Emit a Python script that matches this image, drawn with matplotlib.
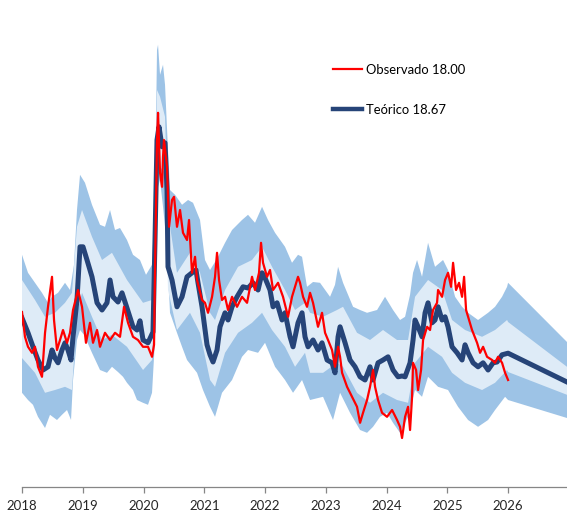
import numpy as np
import matplotlib.pyplot as plt
from matplotlib.lines import Line2D

# --- DATA (decimal years) ---
t_obs = [2018.000, 2018.049, 2018.099, 2018.165, 2018.214, 2018.263, 2018.329, 2018.379, 2018.428, 2018.494,
         2018.527, 2018.576, 2018.626, 2018.675, 2018.741, 2018.790, 2018.840, 2018.922, 2018.988, 2019.053,
         2019.119, 2019.169, 2019.235, 2019.284, 2019.366, 2019.449, 2019.531, 2019.613, 2019.679, 2019.745,
         2019.827, 2019.909, 2019.992, 2020.074, 2020.140, 2020.173, 2020.189, 2020.222, 2020.239, 2020.272,
         2020.305, 2020.321, 2020.337, 2020.387, 2020.420, 2020.469, 2020.502, 2020.551, 2020.601, 2020.650,
         2020.716, 2020.749, 2020.798, 2020.848, 2020.881, 2020.963, 2021.012, 2021.062, 2021.128, 2021.177,
         2021.210, 2021.243, 2021.292, 2021.342, 2021.391, 2021.457, 2021.539, 2021.621, 2021.704, 2021.786,
         2021.835, 2021.901, 2021.934, 2021.967, 2022.033, 2022.082, 2022.132, 2022.214, 2022.296, 2022.379,
         2022.444, 2022.494, 2022.543, 2022.576, 2022.626, 2022.691, 2022.741, 2022.790, 2022.872, 2022.938,
         2022.988, 2023.037, 2023.103, 2023.152, 2023.202, 2023.235, 2023.268, 2023.350, 2023.432, 2023.514,
         2023.564, 2023.613, 2023.679, 2023.728, 2023.778, 2023.811, 2023.860, 2023.926, 2024.008, 2024.091,
         2024.173, 2024.222, 2024.255, 2024.305, 2024.354, 2024.387, 2024.420, 2024.436, 2024.486, 2024.519,
         2024.568, 2024.601, 2024.667, 2024.716, 2024.765, 2024.831, 2024.848, 2024.914, 2024.963, 2025.012,
         2025.062, 2025.095, 2025.144, 2025.193, 2025.243, 2025.276, 2025.309, 2025.358, 2025.407, 2025.490,
         2025.539, 2025.589, 2025.654, 2025.737, 2025.786, 2025.835, 2025.901, 2025.951, 2026.000]
v_obs = [19.70, 19.08, 18.83, 18.68, 18.83, 18.33, 18.08, 19.18, 19.83, 20.58,
         19.50, 18.75, 19.00, 19.25, 18.93, 19.18, 19.75, 20.25, 19.83, 18.93,
         19.43, 18.93, 19.25, 18.83, 19.18, 19.00, 19.18, 19.08, 19.83, 19.43,
         19.08, 19.00, 18.83, 18.83, 18.58, 18.88, 20.68, 24.00, 24.68, 23.18,
         22.83, 23.58, 24.00, 23.33, 21.83, 22.50, 22.58, 21.83, 22.25, 21.68,
         21.50, 22.00, 20.68, 21.08, 20.50, 20.00, 19.93, 19.68, 20.08, 20.58,
         21.18, 20.50, 20.00, 20.08, 19.75, 20.08, 19.83, 20.08, 19.93, 20.58,
         20.25, 20.68, 21.43, 20.93, 20.58, 20.75, 20.25, 20.43, 20.08, 19.58,
         20.08, 20.33, 20.58, 20.43, 20.08, 19.83, 20.18, 19.93, 19.33, 19.68,
         19.18, 19.00, 18.75, 18.33, 18.83, 18.58, 18.18, 17.83, 17.58, 17.33,
         16.93, 17.18, 17.50, 17.83, 18.25, 17.83, 17.50, 17.18, 17.08, 17.25,
         17.00, 16.83, 16.55, 17.08, 17.33, 16.75, 17.58, 18.43, 18.25, 17.75,
         18.25, 19.00, 19.33, 19.25, 19.75, 19.93, 20.25, 20.08, 20.50, 20.68,
         20.33, 20.93, 20.25, 20.43, 20.08, 20.58, 19.75, 19.50, 19.25, 18.93,
         18.68, 18.83, 18.58, 18.50, 18.43, 18.58, 18.43, 18.18, 18.00]

t_teo = [2018.000, 2018.099, 2018.181, 2018.263, 2018.346, 2018.428, 2018.494, 2018.543, 2018.593, 2018.658,
         2018.708, 2018.757, 2018.807, 2018.840, 2018.905, 2018.955, 2019.004, 2019.070, 2019.152, 2019.235,
         2019.317, 2019.399, 2019.449, 2019.498, 2019.580, 2019.646, 2019.728, 2019.827, 2019.893, 2019.942,
         2019.992, 2020.074, 2020.156, 2020.189, 2020.222, 2020.255, 2020.305, 2020.354, 2020.387, 2020.403,
         2020.469, 2020.551, 2020.634, 2020.716, 2020.798, 2020.864, 2020.897, 2020.963, 2021.045, 2021.095,
         2021.144, 2021.210, 2021.259, 2021.342, 2021.391, 2021.457, 2021.539, 2021.638, 2021.720, 2021.803,
         2021.885, 2021.951, 2022.000, 2022.082, 2022.132, 2022.198, 2022.280, 2022.329, 2022.412, 2022.461,
         2022.543, 2022.609, 2022.658, 2022.708, 2022.790, 2022.872, 2022.938, 2023.021, 2023.103, 2023.152,
         2023.202, 2023.235, 2023.317, 2023.399, 2023.482, 2023.564, 2023.646, 2023.728, 2023.778, 2023.860,
         2023.942, 2024.025, 2024.107, 2024.189, 2024.255, 2024.305, 2024.387, 2024.436, 2024.469, 2024.519,
         2024.584, 2024.634, 2024.683, 2024.749, 2024.798, 2024.848, 2024.914, 2024.963, 2025.012, 2025.078,
         2025.161, 2025.243, 2025.292, 2025.342, 2025.424, 2025.506, 2025.589, 2025.671, 2025.753, 2025.819,
         2025.901, 2026.000]
v_teo = [19.55, 19.18, 18.83, 18.50, 18.25, 18.33, 18.75, 18.55, 18.43, 18.75,
         18.93, 18.75, 18.50, 19.08, 20.00, 21.33, 21.33, 21.00, 20.58, 19.93,
         19.75, 19.93, 20.50, 20.08, 19.95, 20.18, 19.80, 19.33, 19.25, 19.48,
         19.00, 18.93, 19.20, 21.50, 24.00, 24.33, 23.83, 23.93, 22.75, 20.83,
         20.50, 19.83, 20.08, 20.58, 20.68, 20.75, 20.43, 19.83, 18.88, 18.63,
         18.45, 18.75, 19.33, 19.68, 19.50, 19.83, 20.08, 20.33, 20.30, 20.43,
         20.25, 20.68, 20.55, 20.25, 19.83, 19.93, 19.50, 19.68, 19.08, 18.83,
         19.43, 19.68, 19.08, 18.83, 19.00, 18.75, 18.93, 18.50, 18.43, 18.18,
         19.08, 19.33, 18.93, 18.50, 18.33, 18.08, 18.00, 18.33, 18.00, 18.43,
         18.50, 18.58, 18.25, 18.08, 18.10, 18.08, 18.43, 19.00, 19.50, 19.33,
         19.08, 19.68, 19.93, 19.43, 19.50, 19.83, 19.50, 19.58, 19.33, 18.83,
         18.68, 18.50, 18.88, 18.68, 18.43, 18.33, 18.43, 18.25, 18.43, 18.45,
         18.63, 18.67]

# forecast of the theoretical value
t_fcst = [2026.000, 2026.97]
v_fcst = [18.67, 17.95]

# outer band (upper / lower edge), history + forecast
t_out_hi = [2018.000, 2018.099, 2018.214, 2018.329, 2018.428, 2018.494, 2018.593, 2018.708, 2018.790, 2018.856,
            2018.905, 2018.955, 2019.037, 2019.152, 2019.284, 2019.366, 2019.449, 2019.531, 2019.613, 2019.728,
            2019.827, 2019.942, 2020.041, 2020.140, 2020.189, 2020.222, 2020.239, 2020.272, 2020.321, 2020.354,
            2020.403, 2020.436, 2020.519, 2020.634, 2020.733, 2020.815, 2020.930, 2021.012, 2021.095, 2021.177,
            2021.226, 2021.342, 2021.457, 2021.621, 2021.720, 2021.835, 2021.951, 2022.049, 2022.165, 2022.329,
            2022.444, 2022.543, 2022.609, 2022.691, 2022.790, 2022.905, 2023.070, 2023.152, 2023.202, 2023.284,
            2023.449, 2023.564, 2023.679, 2023.844, 2023.975, 2024.107, 2024.222, 2024.305, 2024.387, 2024.436,
            2024.502, 2024.584, 2024.683, 2024.798, 2024.930, 2025.012, 2025.128, 2025.243, 2025.342, 2025.506,
            2025.671, 2025.786, 2025.901, 2025.984, 2026.000, 2026.97]
v_out_hi = [21.13, 20.68, 20.43, 20.18, 19.93, 20.08, 20.18, 20.43, 20.25, 20.88,
            22.25, 23.13, 22.93, 22.38, 21.88, 21.83, 22.25, 21.75, 21.80, 21.50,
            21.13, 21.00, 20.63, 20.88, 22.50, 26.25, 26.38, 25.63, 25.88, 25.38,
            23.75, 22.75, 22.63, 22.38, 22.50, 22.43, 22.00, 21.00, 20.75, 20.95,
            21.08, 21.43, 21.75, 22.00, 22.13, 21.93, 22.33, 22.00, 21.68, 21.33,
            20.93, 21.13, 21.08, 20.33, 20.45, 20.43, 20.08, 20.38, 20.83, 20.43,
            19.83, 19.75, 19.68, 19.75, 20.08, 19.75, 19.50, 19.58, 20.13, 20.68,
            21.00, 20.58, 21.43, 20.83, 21.00, 20.75, 20.08, 19.83, 19.68, 19.50,
            19.68, 19.83, 20.08, 20.33, 20.43, 18.95]
t_out_lo = [2018.000, 2018.099, 2018.181, 2018.263, 2018.379, 2018.461, 2018.576, 2018.658, 2018.741, 2018.807,
            2018.840, 2018.905, 2018.955, 2019.021, 2019.152, 2019.284, 2019.399, 2019.481, 2019.580, 2019.663,
            2019.728, 2019.827, 2019.893, 2019.992, 2020.074, 2020.140, 2020.189, 2020.222, 2020.272, 2020.321,
            2020.387, 2020.436, 2020.551, 2020.634, 2020.716, 2020.881, 2020.979, 2021.095, 2021.177, 2021.292,
            2021.457, 2021.621, 2021.720, 2021.885, 2022.000, 2022.165, 2022.329, 2022.461, 2022.609, 2022.741,
            2022.955, 2023.119, 2023.235, 2023.399, 2023.564, 2023.679, 2023.778, 2023.893, 2024.008, 2024.107,
            2024.222, 2024.354, 2024.469, 2024.584, 2024.683, 2024.848, 2025.012, 2025.177, 2025.342, 2025.506,
            2025.671, 2025.786, 2025.951, 2026.000, 2026.97]
v_out_lo = [17.68, 17.50, 17.38, 17.08, 16.80, 17.13, 17.00, 17.13, 17.25, 17.00,
            18.00, 19.00, 19.25, 19.13, 18.68, 18.25, 18.18, 18.33, 18.20, 18.08,
            17.93, 17.75, 17.50, 17.43, 17.38, 17.68, 19.00, 22.75, 23.00, 22.33,
            21.33, 19.68, 19.18, 18.83, 18.50, 18.18, 17.75, 17.33, 17.08, 17.68,
            18.00, 18.58, 18.75, 18.68, 18.93, 18.33, 18.00, 17.68, 18.00, 17.50,
            17.58, 17.00, 17.68, 17.18, 16.75, 16.68, 16.83, 17.08, 17.18, 16.93,
            16.68, 17.08, 17.75, 17.58, 18.08, 17.83, 17.75, 17.33, 17.00, 16.83,
            17.00, 17.25, 17.58, 17.50, 17.05]

# inner band (upper / lower edge), history + forecast
t_in = [2018.000, 2018.214, 2018.379, 2018.543, 2018.708, 2018.823, 2018.905, 2018.988, 2019.152, 2019.317,
        2019.481, 2019.728, 2019.992, 2020.140, 2020.189, 2020.222, 2020.272, 2020.354, 2020.403, 2020.551,
        2020.765, 2020.930, 2021.095, 2021.177, 2021.342, 2021.556, 2021.786, 2021.951, 2022.115, 2022.329,
        2022.494, 2022.658, 2022.741, 2022.955, 2023.185, 2023.284, 2023.514, 2023.728, 2023.942, 2024.173,
        2024.354, 2024.469, 2024.683, 2024.914, 2025.078, 2025.292, 2025.572, 2025.786, 2025.984, 2026.000,
        2026.97]
v_in_hi = [20.50, 20.00, 19.58, 19.68, 19.93, 20.18, 21.83, 22.25, 21.58, 21.00,
           21.18, 20.50, 19.93, 20.00, 21.75, 25.25, 25.08, 24.58, 22.18, 20.68,
           21.18, 20.68, 19.68, 19.50, 20.25, 20.83, 21.00, 21.33, 20.83, 20.25,
           19.75, 19.93, 19.68, 19.58, 19.75, 19.83, 19.18, 19.00, 19.25, 19.00,
           19.00, 20.08, 20.50, 20.25, 19.50, 19.25, 19.08, 19.25, 19.50, 19.45,
           18.33]
v_in_lo = [18.55, 18.18, 17.68, 17.75, 17.83, 17.75, 19.68, 20.18, 19.58, 19.00,
           19.13, 18.83, 18.25, 18.50, 20.00, 23.33, 23.33, 23.18, 20.25, 19.25,
           19.68, 19.18, 18.00, 17.83, 18.68, 19.18, 19.43, 19.68, 19.25, 18.83,
           18.33, 18.68, 18.18, 18.18, 18.43, 18.33, 17.68, 17.43, 17.68, 17.50,
           17.43, 18.43, 18.83, 18.58, 18.18, 17.93, 17.75, 17.93, 18.25, 18.20,
           17.63]

years = list(range(2018, 2027))

# --- STYLE ---
RED = "#FF0000"
NAVY = "#264478"
BAND_OUT = "#9DC3E6"
BAND_IN = "#DEEBF7"
plt.rcParams["font.family"] = ["Lato", "DejaVu Sans"]

fig = plt.figure(figsize=(5.67, 5.12), dpi=100)
ax = fig.add_axes([22 / 567, 1 - 487 / 512, 545 / 567, 487 / 512])

# bands as polygons (edges have their own dates)
ax.fill(np.concatenate([t_out_hi, t_out_lo[::-1]]), np.concatenate([v_out_hi, v_out_lo[::-1]]),
        color=BAND_OUT, lw=0, zorder=1)
ax.fill(np.concatenate([t_in, t_in[::-1]]), np.concatenate([v_in_hi, v_in_lo[::-1]]),
        color=BAND_IN, lw=0, zorder=2)

ax.plot(t_teo + t_fcst[1:], v_teo + v_fcst[1:], color=NAVY, lw=3.6, solid_joinstyle="round", zorder=3)
ax.plot(t_obs, v_obs, color=RED, lw=1.6, zorder=4)

ax.set_xlim(2018, 2026.97)
ax.set_ylim(15.325, 27.5)
ax.set_xticks(years)
ax.set_xticklabels([str(y) for y in years])
ax.set_yticks([])
for s in ["left", "right", "top"]:
    ax.spines[s].set_visible(False)
ax.spines["bottom"].set_color("#868686")
ax.spines["bottom"].set_linewidth(0.9)
ax.tick_params(axis="x", direction="out", length=4, width=0.9, color="#868686",
               labelsize=9.5, labelcolor="#262626", pad=5.5)
ax.set_facecolor("none")

handles = [Line2D([], [], color=RED, lw=1.6), Line2D([], [], color=NAVY, lw=3.2)]
ax.legend(handles, ["Observado 18.00", "Teórico 18.67"], loc="upper left",
          bbox_to_anchor=(0.571, 0.869), frameon=False, fontsize=9.4,
          handlelength=2.2, handletextpad=0.3, labelspacing=2.15,
          borderpad=0, borderaxespad=0)

fig.savefig("out.png", dpi=100)
